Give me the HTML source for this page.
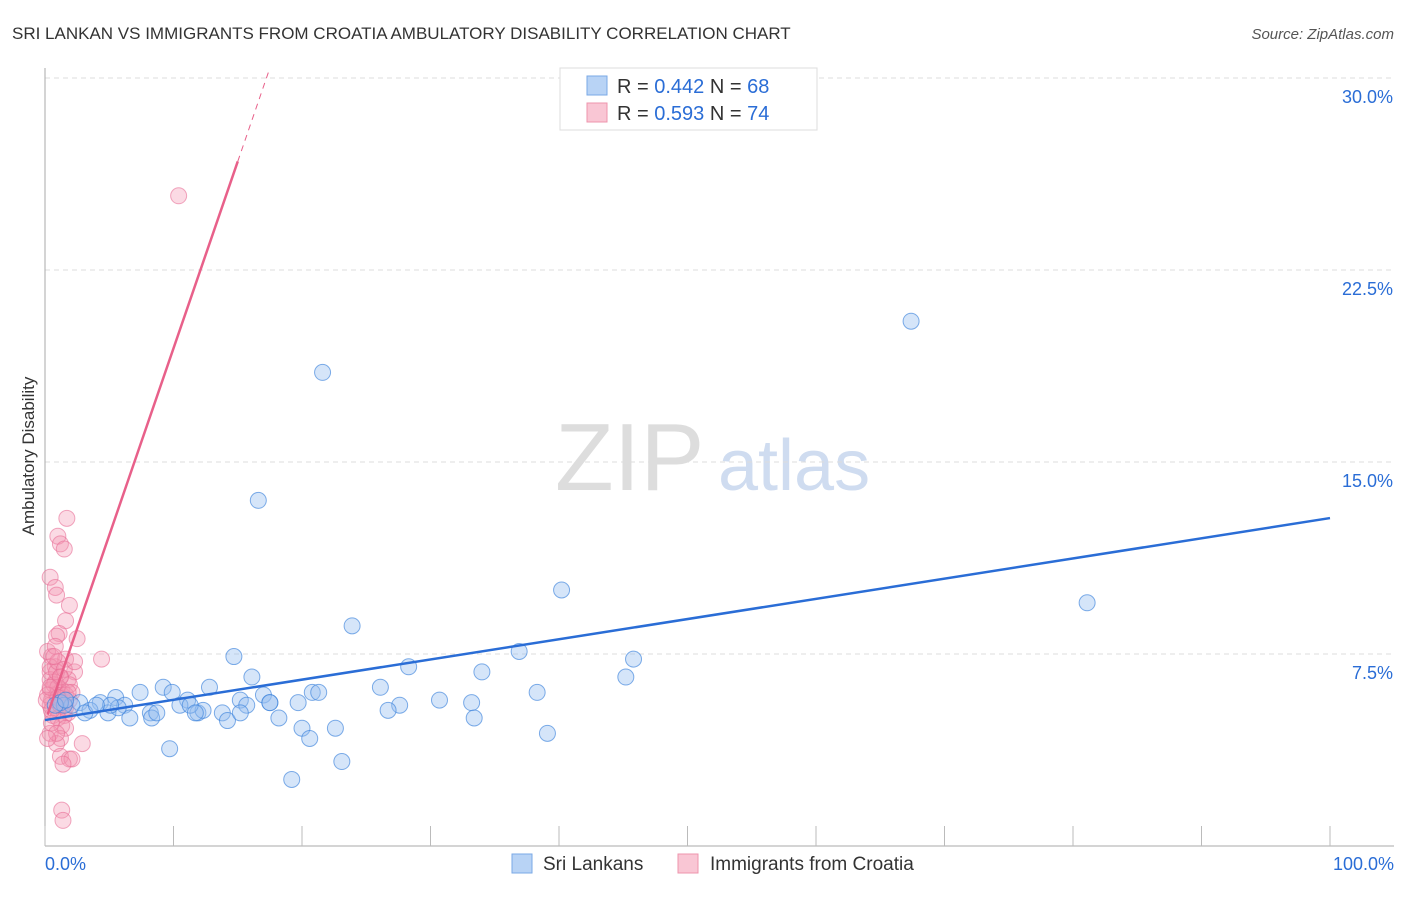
<!DOCTYPE html>
<html><head><meta charset="utf-8"><style>
body{margin:0;background:#fff;font-family:"Liberation Sans",sans-serif;}
svg text{font-family:"Liberation Sans",sans-serif;}
</style></head><body>
<svg id="chart" width="1406" height="892" xmlns="http://www.w3.org/2000/svg">
<text x="12" y="39" font-size="17" fill="#333">SRI LANKAN VS IMMIGRANTS FROM CROATIA AMBULATORY DISABILITY CORRELATION CHART</text>
<text x="1394" y="39" font-size="15" fill="#555" font-style="italic" text-anchor="end">Source: ZipAtlas.com</text>
<text x="34" y="456" font-size="17" fill="#333" text-anchor="middle" transform="rotate(-90 34 456)">Ambulatory Disability</text>
<text x="555" y="490" font-size="96" fill="#ddd" font-family="Liberation Serif">ZIP</text>
<text x="718" y="490" font-size="72" fill="#cfdcf0">atlas</text>
<g id="grid"></g><g id="axes"></g><g id="pink"></g><g id="blue"></g><g id="lines"></g>
<g>
<rect x="560" y="68" width="257" height="62" fill="#fff" stroke="#ddd"/>
<rect x="587" y="76" width="20" height="19" fill="#b8d3f5" stroke="#7aa8e6"/>
<text x="617" y="93" font-size="20" fill="#333">R = <tspan fill="#2a6dd6">0.442</tspan>   N = <tspan fill="#2a6dd6">68</tspan></text>
<rect x="587" y="103" width="20" height="19" fill="#f9c6d4" stroke="#ee94ad"/>
<text x="617" y="120" font-size="20" fill="#333">R =  <tspan fill="#2a6dd6">0.593</tspan>   N =  <tspan fill="#2a6dd6">74</tspan></text>
</g>
<g>
<rect x="512" y="854" width="20" height="19" fill="#b8d3f5" stroke="#7aa8e6"/>
<text x="543" y="870" font-size="19" fill="#333">Sri Lankans</text>
<rect x="678" y="854" width="20" height="19" fill="#f9c6d4" stroke="#ee94ad"/>
<text x="710" y="870" font-size="19" fill="#333">Immigrants from Croatia</text>
</g>
</svg>
<script>
const yTicks=[7.5,15,22.5,30];
const yTickLabels=["7.5%","15.0%","22.5%","30.0%"];
const xTickLabels=["0.0%","100.0%"];
const blueX=[67.4,21.6,16.6,40.2,81.1,23.9,36.9,45.8,45.2,14.7,28.3,34.0,16.1,9.2,7.4,12.8,9.9,26.1,38.3,17.0,20.8,21.3,5.5,11.1,4.3,2.7,2.1,1.5,3.5,4.9,6.2,8.2,10.5,11.9,12.3,15.2,15.7,17.5,19.7,30.7,33.2,27.6,26.7,6.6,8.3,13.8,14.2,18.2,20.0,22.6,33.4,39.1,20.6,9.7,23.1,19.2,3.1,1.2,0.8,5.7,8.7,11.3,5.1,4.0,1.6,15.2,11.7,17.5];
const blueY=[20.5,18.5,13.5,10.0,9.5,8.6,7.6,7.3,6.6,7.4,7.0,6.8,6.6,6.2,6.0,6.2,6.0,6.2,6.0,5.9,6.0,6.0,5.8,5.7,5.6,5.6,5.5,5.5,5.3,5.2,5.5,5.2,5.5,5.2,5.3,5.7,5.5,5.6,5.6,5.7,5.6,5.5,5.3,5.0,5.0,5.2,4.9,5.0,4.6,4.6,5.0,4.4,4.2,3.8,3.3,2.6,5.2,5.6,5.5,5.4,5.2,5.5,5.5,5.5,5.7,5.2,5.2,5.6];
const pinkX=[10.4,1.7,1.0,1.2,1.5,0.4,0.8,0.9,1.9,1.6,1.1,2.5,0.9,4.4,0.5,1.6,0.8,2.3,0.4,1.2,1.8,0.8,1.3,1.9,0.4,0.9,1.2,0.5,1.6,0.4,1.0,1.8,0.6,1.5,1.0,1.3,1.6,0.4,1.2,0.9,2.9,1.2,1.9,2.1,1.3,1.4,0.4,0.7,1.0,1.3,0.2,0.5,1.2,1.6,1.9,0.4,0.9,0.2,0.8,1.0,0.1,1.5,2.1,1.2,0.5,0.9,1.4,0.2,2.3,0.7,1.6,1.8,1.0,0.4];
const pinkY=[25.4,12.8,12.1,11.8,11.6,10.5,10.1,9.8,9.4,8.8,8.3,8.1,8.2,7.3,7.4,7.3,7.0,6.8,6.8,6.6,6.5,6.4,6.1,6.3,6.1,5.9,5.7,5.7,5.6,5.5,5.3,5.2,5.1,5.1,5.0,4.7,4.6,4.4,4.2,4.0,4.0,3.5,3.4,3.4,1.4,1.0,6.5,6.3,6.2,5.9,5.9,5.3,5.5,5.9,5.7,7.0,6.8,7.6,7.8,7.2,5.7,6.9,6.0,6.6,4.8,4.4,3.2,4.2,7.2,7.4,5.4,6.0,5.8,6.2];
const blueFit=[4.92,12.81];
const pinkFit=[4.84,1.46];
const NS="http://www.w3.org/2000/svg";
const X=v=>45+v*12.85, Y=v=>846-v*25.6;
function mk(tag,attrs,parent){const e=document.createElementNS(NS,tag);for(const k in attrs)e.setAttribute(k,attrs[k]);document.getElementById(parent).appendChild(e);return e;}
yTicks.forEach((t,i)=>{
 const l=mk('line',{x1:45,x2:1394,y1:Y(t),y2:Y(t),stroke:'#ddd','stroke-dasharray':'5,4'},'grid');
 
 
 const tx=mk('text',{x:1393,y:Y(t)+25,'font-size':18,fill:'#2a6dd6','text-anchor':'end'},'grid');
 tx.textContent=yTickLabels[i];
 
 
});
const ax=mk('line',{x1:45,x2:45,y1:68,y2:846,stroke:'#aaa'},'axes');


const bx=mk('line',{x1:45,x2:1394,y1:846,y2:846,stroke:'#aaa'},'axes');


for(let i=0;i<=10;i++){const t=mk('line',{x1:X(i*10),x2:X(i*10),y1:826,y2:846,stroke:'#bbb'},'axes');
 
 }
[[0,'start',45],[100,'end',1394]].forEach((d,i)=>{const t=mk('text',{x:d[2],y:870,'font-size':18,fill:'#2a6dd6','text-anchor':d[1]},'axes');t.textContent=xTickLabels[i];
 
 });
pinkX.forEach((v,i)=>{const c=mk('circle',{cx:X(v),cy:Y(pinkY[i]),r:8,fill:'rgba(244,150,178,0.35)',stroke:'rgba(232,110,150,0.6)'},'pink');
 
 });
blueX.forEach((v,i)=>{const c=mk('circle',{cx:X(v),cy:Y(blueY[i]),r:8,fill:'rgba(150,190,240,0.4)',stroke:'rgba(60,130,220,0.65)'},'blue');
 
 });
const bl=mk('line',{x1:X(0),y1:Y(blueFit[0]),x2:X(100),y2:Y(blueFit[1]),stroke:'#2a6dd6','stroke-width':2.5},'lines');


const pl=mk('line',{x1:X(0.2),y1:Y(pinkFit[0]+pinkFit[1]*0.2),x2:X(15),y2:Y(pinkFit[0]+pinkFit[1]*15),stroke:'#e8608a','stroke-width':2.5},'lines');


const pd=mk('line',{x1:X(15),y1:Y(pinkFit[0]+pinkFit[1]*15),x2:X(17.4),y2:Y(pinkFit[0]+pinkFit[1]*17.4),stroke:'#e8608a','stroke-width':1,'stroke-dasharray':'6,5'},'lines');


</script>
</body></html>
